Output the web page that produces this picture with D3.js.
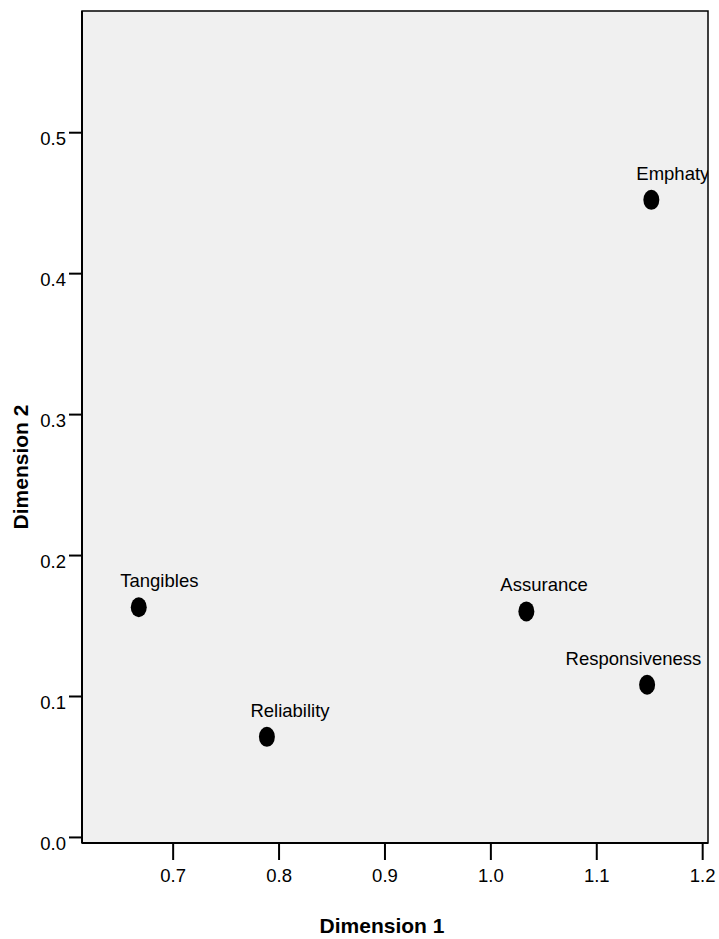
<!DOCTYPE html>
<html>
<head>
<meta charset="utf-8">
<script src="https://cdn.jsdelivr.net/npm/d3@7"></script>
<style>
  html, body { margin: 0; padding: 0; background: #ffffff; }
  svg { display: block; font-family: "Liberation Sans", Arial, sans-serif; }
</style>
</head>
<body>
<svg id="chart" width="719" height="939"></svg>
<script>
// Data
const names = ["Tangibles", "Reliability", "Assurance", "Responsiveness", "Emphaty"];
const dim1 = [0.668, 0.789, 1.034, 1.148, 1.152];
const dim2 = [0.163, 0.071, 0.160, 0.108, 0.452];
const xTicks = [0.7, 0.8, 0.9, 1.0, 1.1, 1.2];
const yTicks = [0.0, 0.1, 0.2, 0.3, 0.4, 0.5];
// label placement offsets (px, relative to point), annotation layout only
const labelDx = [-18.5, -16.5, -26, -81.5, -15];

const svg = d3.select("#chart");
const L = 82, R = 708, T = 11, B = 843;

const x = d3.scaleLinear().domain([0.6144, 1.2055]).range([L, R]);
const y = d3.scaleLinear().domain([-0.0043, 0.586]).range([B, T]);

svg.append("defs").append("clipPath").attr("id", "plotclip")
  .append("rect").attr("x", L).attr("y", T).attr("width", R - L).attr("height", B - T);

// plot background
svg.append("rect")
  .attr("x", L).attr("y", T).attr("width", R - L).attr("height", B - T)
  .attr("fill", "#f0f0f0").attr("stroke", "#000").attr("stroke-width", 1.5);

// x axis
const xAxis = svg.append("g").attr("transform", `translate(0,${B})`)
  .call(d3.axisBottom(x).tickValues(xTicks).tickSize(17).tickPadding(9)
    .tickFormat(d3.format(".1f")));
xAxis.select(".domain").remove();
xAxis.selectAll(".tick line").attr("stroke", "#000").attr("stroke-width", 2);
xAxis.selectAll(".tick text").attr("font-size", 18.5).attr("fill", "#000")
  .attr("font-family", "Liberation Sans, Arial, sans-serif");

// y axis
const yAxis = svg.append("g").attr("transform", `translate(${L},0)`)
  .call(d3.axisLeft(y).tickValues(yTicks).tickSize(13).tickPadding(3)
    .tickFormat(d3.format(".1f")));
yAxis.select(".domain").remove();
yAxis.selectAll(".tick line").attr("stroke", "#000").attr("stroke-width", 2);
yAxis.selectAll(".tick text").attr("font-size", 18.5).attr("fill", "#000")
  .attr("dy", "0.72em").attr("y", -1)
  .attr("font-family", "Liberation Sans, Arial, sans-serif");

// frame on top
svg.append("line").attr("x1", L).attr("x2", L).attr("y1", T).attr("y2", B)
  .attr("stroke", "#000").attr("stroke-width", 2);
svg.append("line").attr("x1", L).attr("x2", R).attr("y1", B).attr("y2", B)
  .attr("stroke", "#000").attr("stroke-width", 2);

// points
const data = names.map((n, i) => ({ name: n, x: dim1[i], y: dim2[i], dx: labelDx[i] }));
svg.append("g").selectAll("ellipse").data(data).join("ellipse")
  .attr("cx", d => x(d.x)).attr("cy", d => y(d.y))
  .attr("rx", 8).attr("ry", 10).attr("fill", "#000");

svg.append("g").attr("clip-path", "url(#plotclip)")
  .selectAll("text").data(data).join("text")
  .attr("x", d => x(d.x) + d.dx).attr("y", d => y(d.y) - 20)
  .attr("font-size", 18.5).attr("fill", "#000")
  .text(d => d.name);

// axis titles
svg.append("text").attr("x", 382).attr("y", 932.5)
  .attr("text-anchor", "middle").attr("font-size", 21).attr("font-weight", "bold")
  .text("Dimension 1");
svg.append("text").attr("transform", "translate(28,467) rotate(-90)")
  .attr("text-anchor", "middle").attr("font-size", 21).attr("font-weight", "bold")
  .text("Dimension 2");
</script>
</body>
</html>
